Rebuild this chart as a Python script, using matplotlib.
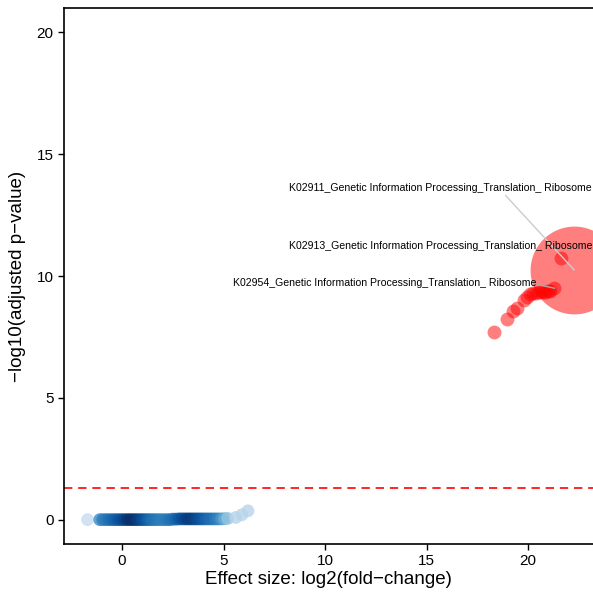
import matplotlib
matplotlib.use("Agg")
import matplotlib.pyplot as plt
from matplotlib import cm

plt.rcParams['font.family'] = ['Liberation Sans', 'DejaVu Sans']

# non-significant features (blue strip near y=0)
blue_x = [-1.7, -1.1, -0.95, -0.8, -0.65, -0.5, -0.35, -0.2, -0.05, 0.1, 0.25, 0.4,
          0.55, 0.7, 0.85, 1.0, 1.15, 1.3, 1.45, 1.6, 1.75, 1.9, 2.05, 2.2, 2.35,
          2.5, 2.65, 2.8, 2.95, 3.1, 3.25, 3.4, 3.55, 3.7, 3.85, 4.0, 4.15, 4.3,
          4.45, 4.6, 4.75, 4.9, 5.05, 5.2, 5.6, 5.9, 6.2]
blue_y = [0.0, 0.0, 0.0, 0.0, 0.0, 0.0, 0.0, 0.0, 0.0, 0.0, 0.0, 0.0,
          0.0, 0.0, 0.0, 0.0, 0.0, 0.0, 0.0, 0.0, 0.0, 0.0, 0.0, 0.0, 0.0,
          0.02, 0.02, 0.03, 0.03, 0.03, 0.03, 0.03, 0.03, 0.03, 0.03, 0.03, 0.03, 0.03,
          0.03, 0.03, 0.03, 0.03, 0.04, 0.05, 0.09, 0.2, 0.36]
blue_shade = [0.25, 0.65, 0.7, 0.72, 0.75, 0.78, 0.82, 0.85, 0.88, 0.92, 0.97, 1.0,
              1.0, 0.97, 0.93, 0.88, 0.85, 0.8, 0.76, 0.74, 0.72, 0.7, 0.7, 0.72, 0.74,
              0.76, 0.8, 0.84, 0.88, 0.92, 0.95, 0.95, 0.93, 0.9, 0.87, 0.83, 0.8, 0.77,
              0.75, 0.72, 0.68, 0.6, 0.5, 0.4, 0.3, 0.3, 0.3]

# significant features (red)
red_x = [18.3, 18.95, 19.25, 19.45, 19.8, 19.95, 20.1, 20.25, 20.4, 20.55, 20.7,
         20.85, 21.0, 21.1, 21.3, 21.6]
red_y = [7.7, 8.25, 8.57, 8.7, 9.0, 9.15, 9.25, 9.3, 9.32, 9.33, 9.35, 9.36, 9.38,
         9.4, 9.5, 10.74]
big_x = 22.27
big_y = 10.25

labels = ["K02911_Genetic Information Processing_Translation_ Ribosome",
          "K02913_Genetic Information Processing_Translation_ Ribosome",
          "K02954_Genetic Information Processing_Translation_ Ribosome"]
label_pts = [(22.27, 10.25), (21.6, 10.74), (21.3, 9.5)]
label_pos = [(23.15, 13.6), (23.15, 11.23), (20.4, 9.71)]

fig = plt.figure(figsize=(5.93, 5.98), dpi=100)
ax = fig.add_axes([0.108, 0.0903, 0.892, 0.8963])

ax.axhline(1.3, color='#ff0000', linestyle=(0, (5, 3.5)), linewidth=1.2, zorder=1)

colors = [cm.Blues(s) for s in blue_shade]
ax.scatter(blue_x, blue_y, s=85, c=colors, alpha=0.8, linewidths=0, zorder=2)
ax.scatter(red_x, red_y, s=100, c='#ff0000', alpha=0.5, linewidths=0, zorder=3)
ax.scatter([big_x], [big_y], s=4000, c='#ff0000', alpha=0.5, linewidths=0, zorder=3,
           clip_on=False)

for lab, (px, py), (tx, ty) in zip(labels, label_pts, label_pos):
    ax.text(tx, ty, lab, ha='right', va='center', fontsize=7.6, color='black', zorder=5)

# connector segments
ax.plot([18.9, 22.27], [13.3, 10.25], color='#cccccc', linewidth=1, zorder=4)
ax.plot([20.45, 21.3], [9.65, 9.5], color='#aaaaaa', linewidth=1, zorder=4)

ax.set_xlim(-2.86, 23.2)
ax.set_ylim(-1.0, 21.0)
ax.set_xticks([0, 5, 10, 15, 20])
ax.set_yticks([0, 5, 10, 15, 20])
ax.tick_params(direction='out', length=4, width=1, labelsize=11, colors='black')
ax.spines['right'].set_visible(False)
for s in ['left', 'top', 'bottom']:
    ax.spines[s].set_linewidth(1.2)

ax.set_xlabel("Effect size: log2(fold\u2212change)", fontsize=13.5, labelpad=2)
ax.set_ylabel("\u2212log10(adjusted p\u2212value)", fontsize=13.5, labelpad=8)

fig.savefig("out.png", dpi=100)
